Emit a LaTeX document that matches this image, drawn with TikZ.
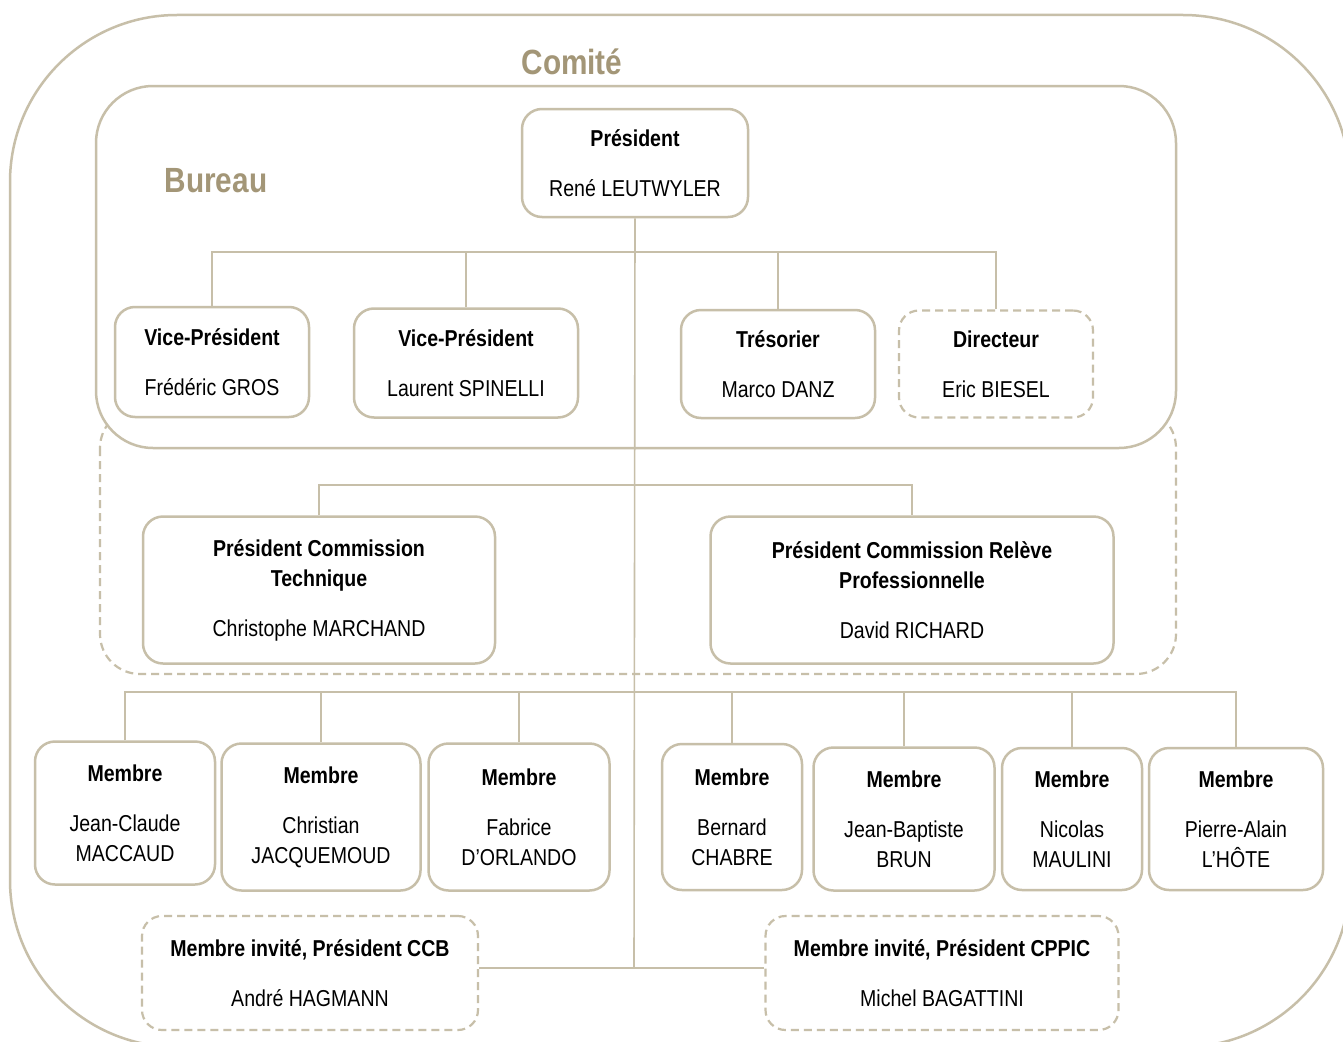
\documentclass[tikz,border=0pt]{standalone}
\usepackage{fontspec}
\setmainfont{Liberation Sans}[FakeStretch=0.85]
\definecolor{tan}{HTML}{C7BFA9}
\definecolor{tantitle}{HTML}{A39677}
\begin{document}
\begin{tikzpicture}[x=1pt,y=-1pt,
  container/.style={draw=tan,line width=2.5pt},
  dashcont/.style={draw=tan,line width=2.2pt,dash pattern=on 8pt off 5pt},
  box/.style={draw=tan,fill=white,line width=2.5pt,rounded corners=20pt,rectangle,inner sep=0pt,
    align=center,font=\fontsize{23}{30}\selectfont},
  dbox/.style={box,line width=2.2pt,dash pattern=on 8pt off 5pt},
  conn/.style={draw=tan,line width=1.6pt},
  grouptitle/.style={text=tantitle,font=\fontsize{35}{40}\selectfont\bfseries,inner sep=0pt}
]
\clip (0,0) rectangle (1343,1041);
\fill[white] (0,0) rectangle (1343,1041);
% containers
\draw[container,rounded corners=167pt] (10,15) rectangle (1350,1047);
\node[grouptitle] (comite) at (572,62) {Comité};
\draw[dashcont,rounded corners=40pt] (100,408) rectangle (1176,674);
\draw[container,fill=white,rounded corners=57pt] (96,86) rectangle (1176,448);
\node[grouptitle] (bureau) at (216,181) {Bureau};

% nodes
\node[box,minimum width=226pt,minimum height=108pt] (pres) at (635,163)
  {\textbf{Président}\\[20pt]René LEUTWYLER};
\node[box,minimum width=194pt,minimum height=110pt] (vp1) at (212,362)
  {\textbf{Vice-Président}\\[20pt]Frédéric GROS};
\node[box,minimum width=224pt,minimum height=109pt] (vp2) at (466,363)
  {\textbf{Vice-Président}\\[20pt]Laurent SPINELLI};
\node[box,minimum width=194pt,minimum height=108pt] (tres) at (778,364)
  {\textbf{Trésorier}\\[20pt]Marco DANZ};
\node[dbox,minimum width=194pt,minimum height=107pt] (dir) at (996,364)
  {\textbf{Directeur}\\[20pt]Eric BIESEL};
\node[box,minimum width=352pt,minimum height=147pt] (pct) at (319,590)
  {\textbf{Président Commission}\\\textbf{Technique}\\[20pt]Christophe MARCHAND};
\node[box,minimum width=403pt,minimum height=147pt] (pcrp) at (912,590)
  {\textbf{Président Commission Relève}\\\textbf{Professionnelle}\\[20pt]David RICHARD};
\node[box,minimum width=180pt,minimum height=143pt] (m1) at (125,813)
  {\textbf{Membre}\\[20pt]Jean-Claude\\MACCAUD};
\node[box,minimum width=199pt,minimum height=147pt] (m2) at (321,817)
  {\textbf{Membre}\\[20pt]Christian\\JACQUEMOUD};
\node[box,minimum width=181pt,minimum height=147pt] (m3) at (519,817)
  {\textbf{Membre}\\[20pt]Fabrice\\D’ORLANDO};
\node[box,minimum width=140pt,minimum height=146pt] (m4) at (732,817)
  {\textbf{Membre}\\[20pt]Bernard\\CHABRE};
\node[box,minimum width=181pt,minimum height=143pt] (m5) at (904,819)
  {\textbf{Membre}\\[20pt]Jean-Baptiste\\BRUN};
\node[box,minimum width=140pt,minimum height=142pt] (m6) at (1072,819)
  {\textbf{Membre}\\[20pt]Nicolas\\MAULINI};
\node[box,minimum width=174pt,minimum height=142pt] (m7) at (1236,819)
  {\textbf{Membre}\\[20pt]Pierre-Alain\\L’HÔTE};
\node[dbox,minimum width=336pt,minimum height=114pt] (ccb) at (310,973)
  {\textbf{Membre invité, Président CCB}\\[20pt]André HAGMANN};
\node[dbox,minimum width=353pt,minimum height=114pt] (cppic) at (942,973)
  {\textbf{Membre invité, Président CPPIC}\\[20pt]Michel BAGATTINI};

% bus coordinates
\coordinate (busB) at (634,252);
\coordinate (busC) at (634,485);
\coordinate (busM) at (634,692);
\coordinate (busI) at (634,968);

% connectors
\draw[conn] (pres.south) -- (busI);
\draw[conn] (vp1.north) -- (vp1.north |- busB) -- (dir.north |- busB) -- (dir.north);
\draw[conn] (vp2.north) -- (vp2.north |- busB);
\draw[conn] (tres.north) -- (tres.north |- busB);
\draw[conn] (pct.north) -- (pct.north |- busC) -- (pcrp.north |- busC) -- (pcrp.north);
\draw[conn] (m1.north) -- (m1.north |- busM) -- (m7.north |- busM) -- (m7.north);
\foreach \m in {m2,m3,m4,m5,m6} \draw[conn] (\m.north) -- (\m.north |- busM);
\draw[conn] (ccb.east |- busI) -- (cppic.west |- busI);
\end{tikzpicture}
\end{document}
